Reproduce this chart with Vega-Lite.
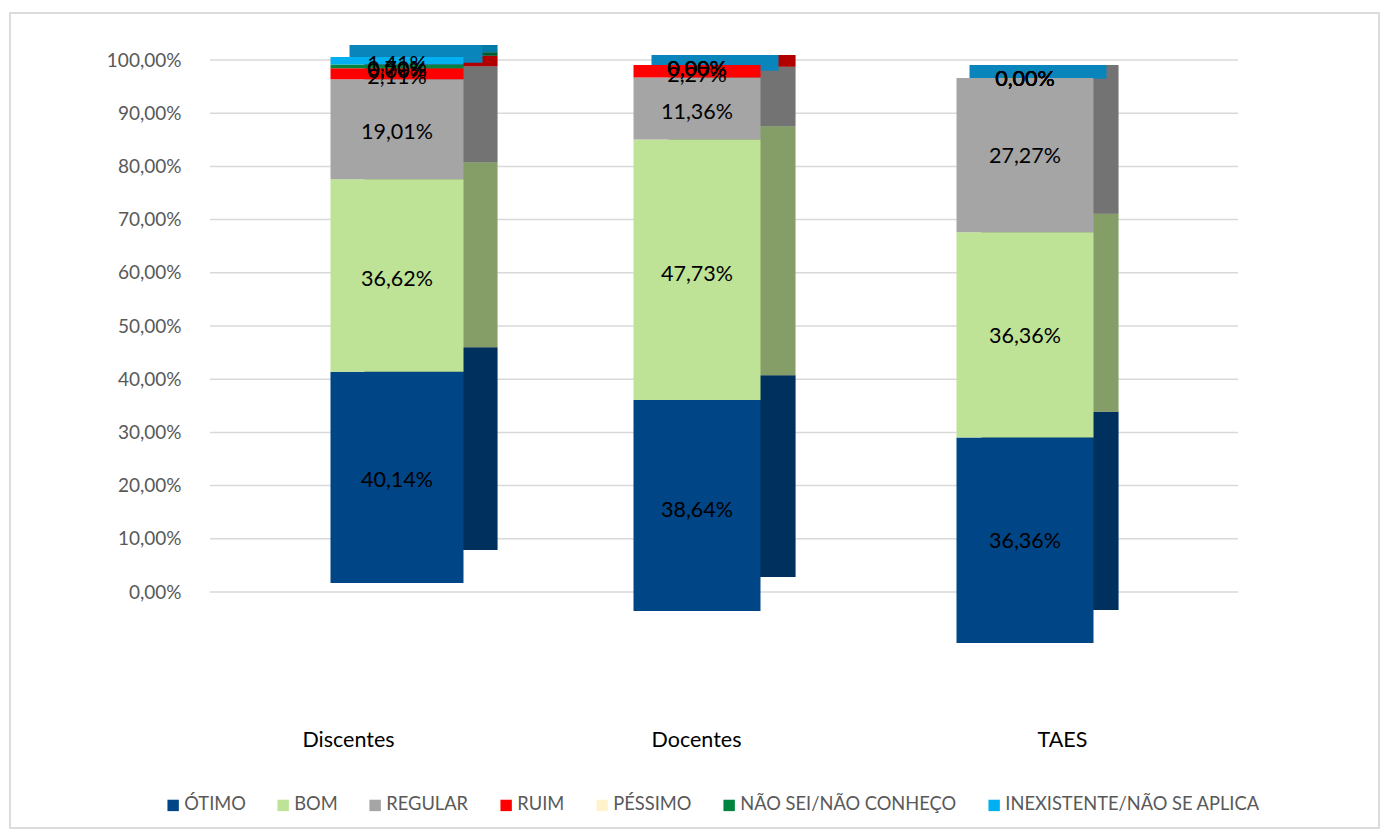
{"$schema":"https://vega.github.io/schema/vega-lite/v6.json","autosize":"none","padding":{"left":10,"top":13,"right":5,"bottom":4},"width":1369,"height":815,"background":"#ffffff","view":{"stroke":"#dcdcdc","strokeWidth":2},"config":{"font":"Lato"},"datasets":{"respostas":[
{"grupo":"Discentes","resposta":"ÓTIMO","ordem":1,"valor":40.14,"rotulo":"40,14%"},
{"grupo":"Discentes","resposta":"BOM","ordem":2,"valor":36.62,"rotulo":"36,62%"},
{"grupo":"Discentes","resposta":"REGULAR","ordem":3,"valor":19.01,"rotulo":"19,01%"},
{"grupo":"Discentes","resposta":"RUIM","ordem":4,"valor":2.11,"rotulo":"2,11%"},
{"grupo":"Discentes","resposta":"PÉSSIMO","ordem":5,"valor":0,"rotulo":"0,00%"},
{"grupo":"Discentes","resposta":"NÃO SEI/NÃO CONHEÇO","ordem":6,"valor":0.7,"rotulo":"0,70%"},
{"grupo":"Discentes","resposta":"INEXISTENTE/NÃO SE APLICA","ordem":7,"valor":1.41,"rotulo":"1,41%"},
{"grupo":"Docentes","resposta":"ÓTIMO","ordem":1,"valor":38.64,"rotulo":"38,64%"},
{"grupo":"Docentes","resposta":"BOM","ordem":2,"valor":47.73,"rotulo":"47,73%"},
{"grupo":"Docentes","resposta":"REGULAR","ordem":3,"valor":11.36,"rotulo":"11,36%"},
{"grupo":"Docentes","resposta":"RUIM","ordem":4,"valor":2.27,"rotulo":"2,27%"},
{"grupo":"Docentes","resposta":"PÉSSIMO","ordem":5,"valor":0,"rotulo":"0,00%"},
{"grupo":"Docentes","resposta":"NÃO SEI/NÃO CONHEÇO","ordem":6,"valor":0,"rotulo":"0,00%"},
{"grupo":"Docentes","resposta":"INEXISTENTE/NÃO SE APLICA","ordem":7,"valor":0,"rotulo":"0,00%"},
{"grupo":"TAES","resposta":"ÓTIMO","ordem":1,"valor":36.36,"rotulo":"36,36%"},
{"grupo":"TAES","resposta":"BOM","ordem":2,"valor":36.36,"rotulo":"36,36%"},
{"grupo":"TAES","resposta":"REGULAR","ordem":3,"valor":27.27,"rotulo":"27,27%"},
{"grupo":"TAES","resposta":"RUIM","ordem":4,"valor":0,"rotulo":"0,00%"},
{"grupo":"TAES","resposta":"PÉSSIMO","ordem":5,"valor":0,"rotulo":"0,00%"},
{"grupo":"TAES","resposta":"NÃO SEI/NÃO CONHEÇO","ordem":6,"valor":0,"rotulo":"0,00%"},
{"grupo":"TAES","resposta":"INEXISTENTE/NÃO SE APLICA","ordem":7,"valor":0,"rotulo":"0,00%"}
],"marcas":[{"marca":0},{"marca":10},{"marca":20},{"marca":30},{"marca":40},{"marca":50},{"marca":60},{"marca":70},{"marca":80},{"marca":90},{"marca":100}]},
"data":{"name":"respostas"},
"transform":[{"stack":"valor","groupby":["grupo"],"sort":[{"field":"ordem","order":"ascending"}],"as":["v0","v1"]},{"calculate":"(datum.v0+datum.v1)/2","as":"meio"}],
"encoding":{"x":{"field":"grupo","type":"nominal","sort":["Discentes","Docentes","TAES"],"scale":{"type":"point","padding":0,"range":[338,1052]},"axis":{"title":null,"orient":"bottom","offset":-99,"domain":false,"ticks":false,"labelAngle":0,"labelFont":"Lato","labelFontSize":21.5,"labelColor":"#000000","labelPadding":0,"labelOffset":{"condition":{"test":"datum.value==='Docentes'","value":-9},"value":0}}}},
"layer":[
{"data":{"name":"marcas"},"transform":[],"mark":{"type":"rule","color":"#d9d9d9","strokeWidth":1.5},"encoding":{"x":{"value":200},"x2":{"value":1228},"y":{"field":"marca","type":"quantitative","scale":{"domain":[0,100],"range":[579,47]},"axis":{"title":null,"values":[0,10,20,30,40,50,60,70,80,90,100],"offset":-171,"domain":false,"ticks":false,"grid":false,"labelPadding":0,"labelFont":"Lato","labelFontSize":19,"labelColor":"#595959","labelExpr":"replace(format(datum.value,'.2f'),'.',',')+'%'"}}}},
{"transform":[{"filter":"datum.grupo==='Discentes'"}],"encoding":{"y":{"field":"v0","type":"quantitative","scale":{"domain":[0,100],"range":[537,32]},"axis":null},"y2":{"field":"v1"}},"layer":[
{"mark":{"type":"bar","width":133,"xOffset":83},"encoding":{"color":{"field":"resposta","type":"nominal"}}},
{"mark":{"type":"bar","width":133,"xOffset":83,"color":"#000000","opacity":0.3}},
{"transform":[{"filter":"datum.ordem===7"}],"mark":{"type":"bar","width":133,"xOffset":68,"color":"#0a85bb"},"encoding":{"y":{"datum":100,"type":"quantitative"},"y2":{"datum":96.5}}}]},
{"transform":[{"filter":"datum.grupo==='Discentes'"}],"encoding":{"y":{"field":"v0","type":"quantitative","scale":{"domain":[0,100],"range":[570,44]},"axis":null},"y2":{"field":"v1"}},"layer":[
{"mark":{"type":"bar","width":133,"xOffset":49},"encoding":{"color":{"field":"resposta","type":"nominal","sort":["ÓTIMO","BOM","REGULAR","RUIM","PÉSSIMO","NÃO SEI/NÃO CONHEÇO","INEXISTENTE/NÃO SE APLICA"],"scale":{"domain":["ÓTIMO","BOM","REGULAR","RUIM","PÉSSIMO","NÃO SEI/NÃO CONHEÇO","INEXISTENTE/NÃO SE APLICA"],"range":["#004586","#bfe396","#a5a5a5","#ff0000","#fff2cc","#00843f","#00b0f0"]},"legend":{"title":null,"orient":"none","legendX":154,"legendY":783,"direction":"horizontal","columns":7,"symbolType":"square","symbolSize":130,"symbolStrokeWidth":0,"labelFont":"Lato","labelFontSize":18.3,"labelLimit":500,"labelColor":"#595959","labelOffset":2,"columnPadding":28}}}},
{"mark":{"type":"text","fontSize":21.5,"color":"#000000","font":"Lato","xOffset":49,"dy":4},"encoding":{"y":{"field":"meio","type":"quantitative"},"y2":null,"text":{"field":"rotulo","type":"nominal"}}}]},
{"transform":[{"filter":"datum.grupo==='Docentes'"}],"encoding":{"y":{"field":"v0","type":"quantitative","scale":{"domain":[0,100],"range":[564,42]},"axis":null},"y2":{"field":"v1"}},"layer":[
{"mark":{"type":"bar","width":127,"xOffset":27},"encoding":{"color":{"field":"resposta","type":"nominal"}}},
{"mark":{"type":"bar","width":127,"xOffset":27,"color":"#000000","opacity":0.3}},
{"transform":[{"filter":"datum.ordem===7"}],"mark":{"type":"bar","width":127,"xOffset":10,"color":"#0a85bb"},"encoding":{"y":{"datum":100,"type":"quantitative"},"y2":{"datum":97}}}]},
{"transform":[{"filter":"datum.grupo==='Docentes'"}],"encoding":{"y":{"field":"v0","type":"quantitative","scale":{"domain":[0,100],"range":[598,52]},"axis":null},"y2":{"field":"v1"}},"layer":[
{"mark":{"type":"bar","width":127,"xOffset":-8},"encoding":{"color":{"field":"resposta","type":"nominal"}}},
{"mark":{"type":"text","fontSize":21.5,"color":"#000000","font":"Lato","xOffset":-8,"dy":5},"encoding":{"y":{"field":"meio","type":"quantitative"},"y2":null,"text":{"field":"rotulo","type":"nominal"}}}]},
{"transform":[{"filter":"datum.grupo==='TAES'"}],"encoding":{"y":{"field":"v0","type":"quantitative","scale":{"domain":[0,100],"range":[597,52]},"axis":null},"y2":{"field":"v1"}},"layer":[
{"mark":{"type":"bar","width":137,"xOffset":-12},"encoding":{"color":{"field":"resposta","type":"nominal"}}},
{"mark":{"type":"bar","width":137,"xOffset":-12,"color":"#000000","opacity":0.3}},
{"transform":[{"filter":"datum.ordem===7"}],"mark":{"type":"bar","width":137,"xOffset":-24,"color":"#0a85bb"},"encoding":{"y":{"datum":100,"type":"quantitative"},"y2":{"datum":97.5}}}]},
{"transform":[{"filter":"datum.grupo==='TAES'"}],"encoding":{"y":{"field":"v0","type":"quantitative","scale":{"domain":[0,100],"range":[630,65]},"axis":null},"y2":{"field":"v1"}},"layer":[
{"mark":{"type":"bar","width":137,"xOffset":-37},"encoding":{"color":{"field":"resposta","type":"nominal"}}},
{"mark":{"type":"text","fontSize":21.5,"color":"#000000","font":"Lato","xOffset":-37,"dy":2},"encoding":{"y":{"field":"meio","type":"quantitative"},"y2":null,"text":{"field":"rotulo","type":"nominal"}}}]}
],
"resolve":{"scale":{"y":"independent"},"axis":{"y":"independent"}}}
